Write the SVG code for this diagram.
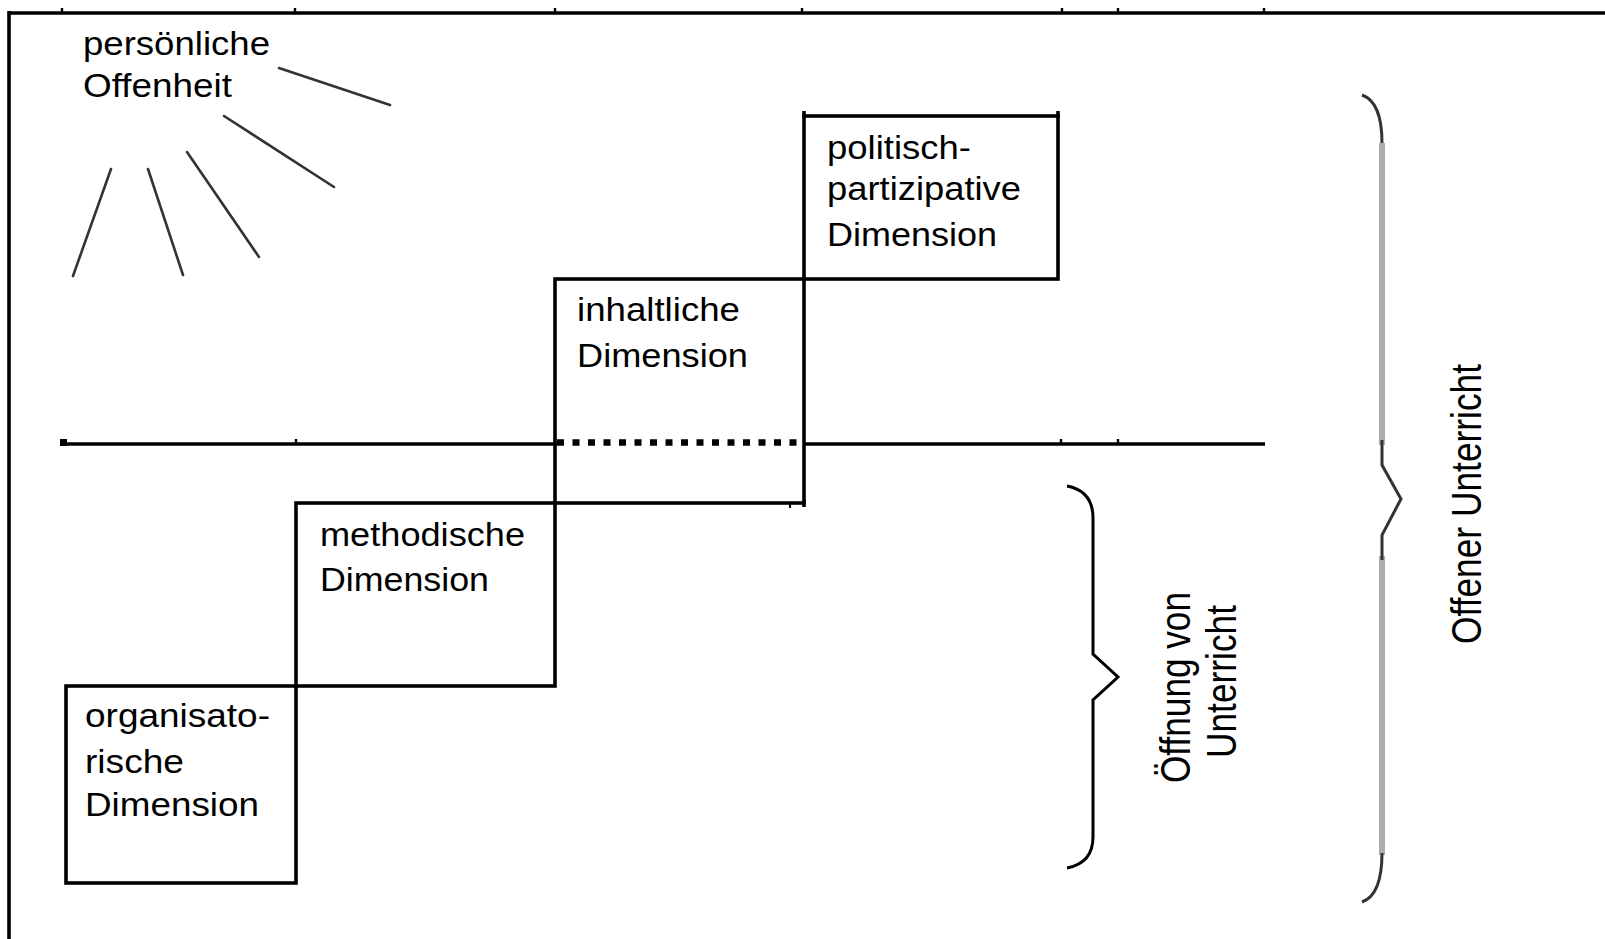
<svg xmlns="http://www.w3.org/2000/svg" width="1605" height="939" viewBox="0 0 1605 939">
<style>
  .ln{stroke:#000;stroke-width:3.6;fill:none}
  .box{stroke:#000;stroke-width:3.6;fill:none}
  .tk{stroke:#000;stroke-width:2.4}
  .ray{stroke:#333;stroke-width:2.6;stroke-linecap:round}
  .t{font-family:"Liberation Sans",Arial,sans-serif;font-size:33px;fill:#000}
  .v{font-family:"Liberation Sans",Arial,sans-serif;font-size:35px;fill:#000}
</style>
<rect x="0" y="0" width="1605" height="939" fill="#fff"/>

<g id="frame">
  <line class="ln" x1="9" y1="13" x2="1605" y2="13"/>
  <line class="ln" x1="9" y1="11" x2="9" y2="939"/>
  <line class="tk" x1="62" y1="8" x2="62" y2="13"/>
  <line class="tk" x1="295" y1="8" x2="295" y2="13"/>
  <line class="tk" x1="555" y1="8" x2="555" y2="13"/>
  <line class="tk" x1="802" y1="8" x2="802" y2="13"/>
  <line class="tk" x1="1062" y1="8" x2="1062" y2="13"/>
  <line class="tk" x1="1118" y1="8" x2="1118" y2="13"/>
  <line class="tk" x1="1264" y1="8" x2="1264" y2="13"/>
</g>

<g id="sun">
  <text class="t" x="83" y="55" textLength="187" lengthAdjust="spacingAndGlyphs">persönliche</text>
  <text class="t" x="83" y="97" textLength="149" lengthAdjust="spacingAndGlyphs">Offenheit</text>
  <line class="ray" x1="279" y1="68" x2="390" y2="105"/>
  <line class="ray" x1="224" y1="116" x2="334" y2="187"/>
  <line class="ray" x1="187" y1="152" x2="259" y2="257"/>
  <line class="ray" x1="148" y1="169" x2="183" y2="275"/>
  <line class="ray" x1="111" y1="169" x2="73" y2="276"/>
</g>

<g id="connectors">
  <line x1="60" y1="444" x2="1265" y2="444" stroke="#000" stroke-width="3.4"/>
  <rect x="60" y="439" width="7" height="7" fill="#000"/>
  <line class="tk" x1="296" y1="439" x2="296" y2="444"/>
  <line class="tk" x1="1061" y1="439" x2="1061" y2="444"/>
  <line class="tk" x1="1118" y1="439" x2="1118" y2="444"/>
  <line x1="557" y1="442.5" x2="804" y2="442.5" stroke="#fff" stroke-width="8"/>
  <line x1="557" y1="442.5" x2="800" y2="442.5" stroke="#000" stroke-width="6.5" stroke-dasharray="7 8.5"/>
</g>

<g id="node-organisatorisch">
  <rect class="box" x="66" y="686" width="230" height="197"/>
  <text class="t" x="85" y="727" textLength="185" lengthAdjust="spacingAndGlyphs">organisato-</text>
  <text class="t" x="85" y="773" textLength="99" lengthAdjust="spacingAndGlyphs">rische</text>
  <text class="t" x="85" y="816" textLength="174" lengthAdjust="spacingAndGlyphs">Dimension</text>
</g>

<g id="node-methodisch">
  <rect class="box" x="296" y="503" width="259" height="183"/>
  <text class="t" x="320" y="546" textLength="205" lengthAdjust="spacingAndGlyphs">methodische</text>
  <text class="t" x="320" y="591" textLength="169" lengthAdjust="spacingAndGlyphs">Dimension</text>
</g>

<g id="node-inhaltlich">
  <rect class="box" x="555" y="279" width="249" height="224"/>
  <line class="ln" x1="804" y1="500" x2="804" y2="507"/>
  <line x1="790" y1="503" x2="790" y2="508" stroke="#000" stroke-width="2"/>
  <text class="t" x="577" y="321" textLength="163" lengthAdjust="spacingAndGlyphs">inhaltliche</text>
  <text class="t" x="577" y="367" textLength="171" lengthAdjust="spacingAndGlyphs">Dimension</text>
</g>

<g id="node-politisch">
  <rect class="box" x="804" y="116" width="254" height="163"/>
  <line class="ln" x1="804" y1="111" x2="804" y2="118"/>
  <line class="ln" x1="1058" y1="111" x2="1058" y2="118"/>
  <text class="t" x="827" y="159" textLength="144" lengthAdjust="spacingAndGlyphs">politisch-</text>
  <text class="t" x="827" y="200" textLength="194" lengthAdjust="spacingAndGlyphs">partizipative</text>
  <text class="t" x="827" y="246" textLength="170" lengthAdjust="spacingAndGlyphs">Dimension</text>
</g>

<g id="brace-oeffnung">
  <path d="M1067,486 Q1093,491 1093,518 L1093,654 L1118,677 L1093,700 L1093,837 Q1093,863 1067,868" fill="none" stroke="#000" stroke-width="3"/>
  <text class="v" transform="translate(1190,783) rotate(-90) scale(1,1.2)" textLength="191" lengthAdjust="spacingAndGlyphs">Öffnung von</text>
  <text class="v" transform="translate(1236,758) rotate(-90) scale(1,1.2)" textLength="153" lengthAdjust="spacingAndGlyphs">Unterricht</text>
</g>

<g id="brace-offen">
  <path d="M1382,143 L1382,445 M1382,556 L1382,855" fill="none" stroke="#adadad" stroke-width="6"/>
  <path d="M1362,95 Q1382,102 1382,143" fill="none" stroke="#333" stroke-width="3"/>
  <path d="M1382,440 L1382,465 L1401,499 L1382,535 L1382,560" fill="none" stroke="#333" stroke-width="3"/>
  <path d="M1382,853 Q1382,895 1362,902" fill="none" stroke="#333" stroke-width="3"/>
  <text class="v" transform="translate(1481,644) rotate(-90) scale(1,1.2)" textLength="280" lengthAdjust="spacingAndGlyphs">Offener Unterricht</text>
</g>
</svg>
